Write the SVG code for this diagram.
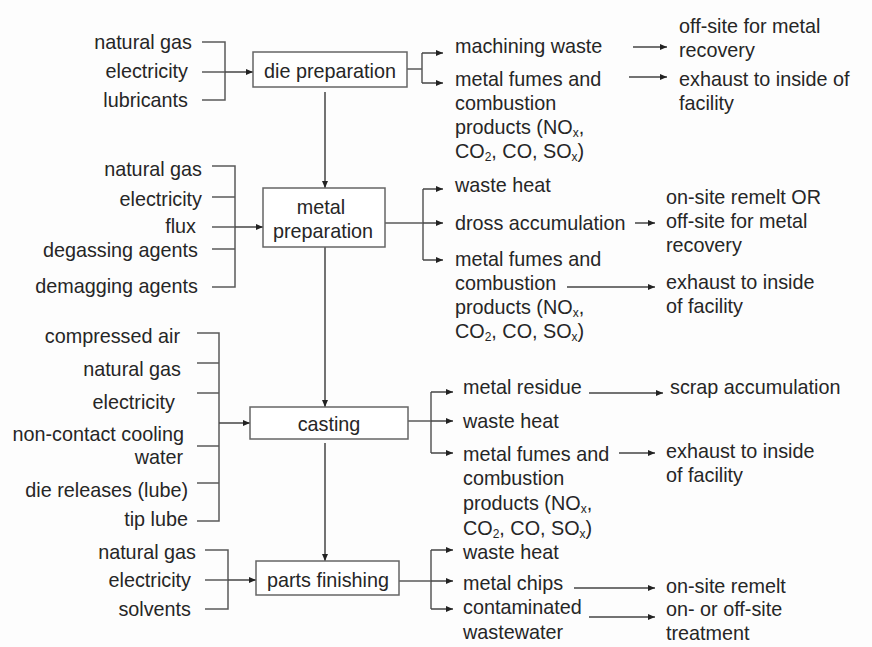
<svg xmlns="http://www.w3.org/2000/svg" width="872" height="647" viewBox="0 0 872 647">
<defs>
<marker id="ah" markerUnits="userSpaceOnUse" markerWidth="8" markerHeight="8" refX="7" refY="4" orient="auto">
<path d="M0,1 L7,4 L0,7 Z" fill="#222"/>
</marker>
<style>
text{font-family:"Liberation Sans",Arial,sans-serif;font-size:19.8px;fill:#262626}
.e{text-anchor:end}
.m{text-anchor:middle}
.box{fill:#fff;stroke:#666;stroke-width:1.5}
.ln{fill:none;stroke:#5a5a5a;stroke-width:1.5}
.ar{fill:none;stroke:#444;stroke-width:1.5;marker-end:url(#ah)}
.sub{font-size:12px}
</style>
</defs>
<rect width="872" height="647" fill="#fdfdfd"/>

<g id="connectors">
<path class="ln" d="M202,42 H225 V100 H202 M202,72 H225"/>
<path class="ar" d="M225,72 H253"/>
<path class="ln" d="M212,166 H235 V287 H212 M212,197 H235 M212,227 H235 M212,249 H235"/>
<path class="ar" d="M235,227 H263"/>
<path class="ln" d="M197,333 H219 V521 H197 M197,363 H219 M197,393 H219 M197,446 H219 M197,483 H219"/>
<path class="ar" d="M219,423 H250"/>
<path class="ln" d="M205,550 H228 V609 H205 M205,580 H228"/>
<path class="ar" d="M228,580 H256"/>
<path class="ar" d="M325,92 V188"/>
<path class="ar" d="M325,247 V407"/>
<path class="ar" d="M325,443 V561"/>
<path class="ln" d="M407,69 H422 M422,53 V83"/>
<path class="ar" d="M422,53 H443"/>
<path class="ar" d="M422,83 H443"/>
<path class="ar" d="M633,47 H667"/>
<path class="ar" d="M629,77 H667"/>
<path class="ln" d="M385,223 H423 M423,189 V260"/>
<path class="ar" d="M423,189 H443"/>
<path class="ar" d="M423,223 H443"/>
<path class="ar" d="M423,260 H443"/>
<path class="ar" d="M635,223 H655"/>
<path class="ar" d="M567,287 H655"/>
<path class="ln" d="M408,421 H431 M431,392 V453"/>
<path class="ar" d="M431,392 H453"/>
<path class="ar" d="M431,421 H453"/>
<path class="ar" d="M431,453 H453"/>
<path class="ar" d="M589,393 H663"/>
<path class="ar" d="M619,453 H655"/>
<path class="ln" d="M399,581 H431 M431,550 V609"/>
<path class="ar" d="M431,550 H453"/>
<path class="ar" d="M431,581 H453"/>
<path class="ar" d="M431,609 H453"/>
<path class="ar" d="M574,588 H655"/>
<path class="ar" d="M589,617 H655"/>
</g>

<g id="die-preparation">
<rect class="box" x="253" y="52" width="154" height="35"/>
<text class="m" x="330" y="78">die preparation</text>
</g>
<g id="die-preparation-inputs">
<text class="e" x="192" y="49">natural gas</text>
<text class="e" x="188" y="78">electricity</text>
<text class="e" x="188" y="107">lubricants</text>
</g>
<g id="die-preparation-outputs">
<text x="455" y="53">machining waste</text>
<text x="455" y="86">metal fumes and</text>
<text x="455" y="110">combustion</text>
<text x="455" y="134">products (NO<tspan class="sub" dy="3">x</tspan><tspan dy="-3">,</tspan></text>
<text x="455" y="158">CO<tspan class="sub" dy="3">2</tspan><tspan dy="-3">, CO, SO</tspan><tspan class="sub" dy="3">x</tspan><tspan dy="-3">)</tspan></text>
<text x="679" y="33">off-site for metal</text>
<text x="679" y="57">recovery</text>
<text x="679" y="86">exhaust to inside of</text>
<text x="679" y="110">facility</text>
</g>

<g id="metal-preparation">
<rect class="box" x="263" y="188" width="122" height="59"/>
<text class="m" x="321" y="214">metal</text>
<text class="m" x="323" y="238">preparation</text>
</g>
<g id="metal-preparation-inputs">
<text class="e" x="202" y="176">natural gas</text>
<text class="e" x="202" y="206">electricity</text>
<text class="e" x="196" y="233">flux</text>
<text class="e" x="198" y="257">degassing agents</text>
<text class="e" x="198" y="293">demagging agents</text>
</g>
<g id="metal-preparation-outputs">
<text x="455" y="192">waste heat</text>
<text x="455" y="230">dross accumulation</text>
<text x="455" y="266">metal fumes and</text>
<text x="455" y="290">combustion</text>
<text x="455" y="314">products (NO<tspan class="sub" dy="3">x</tspan><tspan dy="-3">,</tspan></text>
<text x="455" y="338">CO<tspan class="sub" dy="3">2</tspan><tspan dy="-3">, CO, SO</tspan><tspan class="sub" dy="3">x</tspan><tspan dy="-3">)</tspan></text>
<text x="666" y="204">on-site remelt OR</text>
<text x="666" y="228">off-site for metal</text>
<text x="666" y="252">recovery</text>
<text x="666" y="289">exhaust to inside</text>
<text x="666" y="313">of facility</text>
</g>

<g id="casting">
<rect class="box" x="250" y="407" width="158" height="32"/>
<text class="m" x="329" y="431">casting</text>
</g>
<g id="casting-inputs">
<text class="e" x="180" y="343">compressed air</text>
<text class="e" x="181" y="376">natural gas</text>
<text class="e" x="175" y="409">electricity</text>
<text class="e" x="184" y="441">non-contact cooling</text>
<text class="e" x="183" y="464">water</text>
<text class="e" x="188" y="497">die releases (lube)</text>
<text class="e" x="188" y="526">tip lube</text>
</g>
<g id="casting-outputs">
<text x="463" y="394">metal residue</text>
<text x="463" y="428">waste heat</text>
<text x="463" y="461">metal fumes and</text>
<text x="463" y="485">combustion</text>
<text x="463" y="510">products (NO<tspan class="sub" dy="3">x</tspan><tspan dy="-3">,</tspan></text>
<text x="463" y="535">CO<tspan class="sub" dy="3">2</tspan><tspan dy="-3">, CO, SO</tspan><tspan class="sub" dy="3">x</tspan><tspan dy="-3">)</tspan></text>
<text x="670" y="394">scrap accumulation</text>
<text x="666" y="458">exhaust to inside</text>
<text x="666" y="482">of facility</text>
</g>

<g id="parts-finishing">
<rect class="box" x="256" y="561" width="143" height="34"/>
<text class="m" x="328" y="587">parts finishing</text>
</g>
<g id="parts-finishing-inputs">
<text class="e" x="196" y="559">natural gas</text>
<text class="e" x="191" y="587">electricity</text>
<text class="e" x="191" y="616">solvents</text>
</g>
<g id="parts-finishing-outputs">
<text x="463" y="559">waste heat</text>
<text x="463" y="590">metal chips</text>
<text x="463" y="614">contaminated</text>
<text x="463" y="639">wastewater</text>
<text x="666" y="593">on-site remelt</text>
<text x="666" y="616">on- or off-site</text>
<text x="666" y="640">treatment</text>
</g>
</svg>
